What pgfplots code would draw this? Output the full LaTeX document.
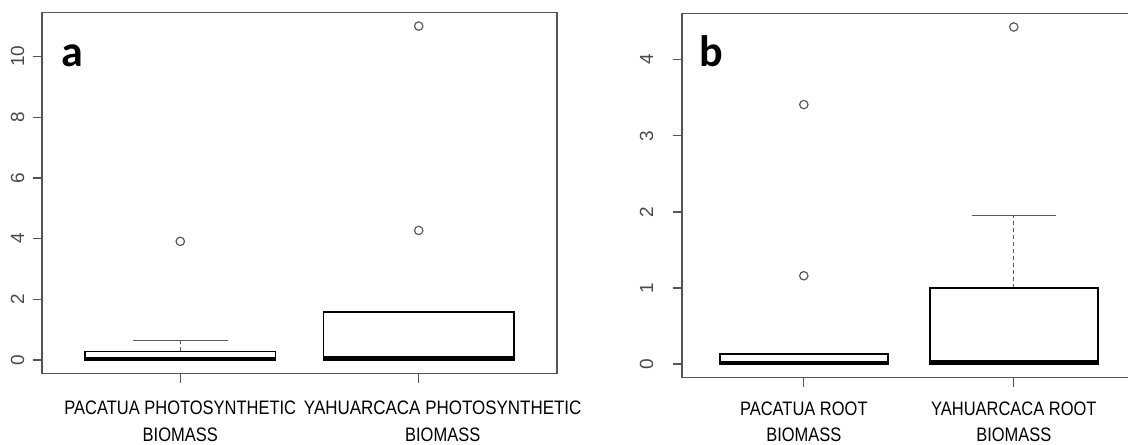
\documentclass[border=0pt]{standalone}
\usepackage{pgfplots}
\pgfplotsset{compat=1.18}
\usepgfplotslibrary{statistics}
\usepackage{fontspec}
\setmainfont{Liberation Sans}
\newfontfamily\cond[FakeStretch=0.845]{Liberation Sans}
\newfontfamily\condb[FakeStretch=0.87]{Liberation Sans}
\newfontfamily\labfont{Carlito}
\definecolor{framegray}{HTML}{555555}
\definecolor{ticklabgray}{HTML}{4A4A4A}
\definecolor{whiskgray}{HTML}{5A5A5A}

\pgfplotsset{rbox/.style={
  scale only axis,
  axis line style={framegray, line width=0.65pt},
  tick style={framegray, line width=0.65pt},
  tick align=outside, tick pos=left,
  major tick length=4.7pt,
  xmin=0.42, xtick={1,2},
  /pgf/number format/assume math mode=true,
  yticklabel style={rotate=90, anchor=south, inner sep=0pt, font=\fontsize{9.5}{10}\selectfont, text=ticklabgray},
  xticklabel style={align=center, font=\cond\fontsize{9.75}{13.3}\selectfont, anchor=north, inner sep=0pt},
  clip=false,
  boxplot/draw direction=y,
  boxplot/box extend=0.8,
  boxplot/whisker extend=0.4,
  boxplot/every box/.style={draw=black, line width=0.75pt},
  boxplot/every median/.style={draw=black, line width=2pt},
  boxplot/draw/upper whisker/.code={%
    \draw[dash pattern=on 2pt off 1.5pt, draw=whiskgray, line width=0.6pt]
      (boxplot box cs:\pgfplotsboxplotvalue{upper quartile},0.5) --
      (boxplot box cs:\pgfplotsboxplotvalue{upper whisker},0.5);
    \draw[solid, draw=whiskgray, line width=0.6pt]
      (boxplot whisker cs:\pgfplotsboxplotvalue{upper whisker},0) --
      (boxplot whisker cs:\pgfplotsboxplotvalue{upper whisker},1);
  },
  boxplot/draw/lower whisker/.code={%
    \draw[solid, draw=whiskgray, line width=0.6pt]
      (boxplot whisker cs:\pgfplotsboxplotvalue{lower whisker},0) --
      (boxplot whisker cs:\pgfplotsboxplotvalue{lower whisker},1);
  },
}, outl/.style={mark=o, mark size=2.1pt, mark options={draw=whiskgray, line width=0.6pt, solid}}}

\begin{document}
\begin{tikzpicture}
\path[use as bounding box, clip] (0,0) rectangle (564pt,222pt);
% panel a
\begin{axis}[rbox, at={(21pt,35.25pt)}, anchor=south west,
  width=257.5pt, height=180.4pt, xmax=2.58,
  ymin=-0.44, ymax=11.44, ytick={0,2,4,6,8,10},
  yticklabel shift=4pt,
  xticklabel style={yshift=-9pt},
  xticklabels={{PACATUA PHOTOSYNTHETIC\\BIOMASS},{\condb\hspace*{24pt}YAHUARCACA PHOTOSYNTHETIC\\\hspace*{24pt}BIOMASS}}]
\addplot[boxplot prepared={draw position=1, lower whisker=0, lower quartile=0,
  median=0.03, upper quartile=0.29, upper whisker=0.65}, outl]
  table[header=false, row sep=\\, y index=0] {3.91\\};
\addplot[boxplot prepared={draw position=2, lower whisker=0, lower quartile=0,
  median=0.06, upper quartile=1.59, upper whisker=1.59}, outl]
  table[header=false, row sep=\\, y index=0] {4.27\\ 11.0\\};
\end{axis}
% panel b
\begin{axis}[rbox, at={(341pt,33.15pt)}, anchor=south west,
  width=226.8pt, height=182.2pt, xmax=2.58,
  ymin=-0.18, ymax=4.61, ytick={0,1,2,3,4},
  yticklabel shift=9.5pt,
  xticklabel style={yshift=-7pt},
  xticklabels={{PACATUA ROOT\\BIOMASS},{YAHUARCACA ROOT\\BIOMASS}}]
\addplot[boxplot prepared={draw position=1, lower whisker=0, lower quartile=0,
  median=0.01, upper quartile=0.134, upper whisker=0.134}, outl]
  table[header=false, row sep=\\, y index=0] {1.16\\ 3.41\\};
\addplot[boxplot prepared={draw position=2, lower whisker=0, lower quartile=0,
  median=0.03, upper quartile=1.0, upper whisker=1.95}, outl]
  table[header=false, row sep=\\, y index=0] {4.43\\};
\end{axis}
\node[anchor=base west, inner sep=0pt, font=\labfont\bfseries\fontsize{22}{22}\selectfont] at (30.5pt,188.6pt) {a};
\node[anchor=base west, inner sep=0pt, font=\labfont\bfseries\fontsize{22}{22}\selectfont] at (349.5pt,188.5pt) {b};
\end{tikzpicture}
\end{document}
